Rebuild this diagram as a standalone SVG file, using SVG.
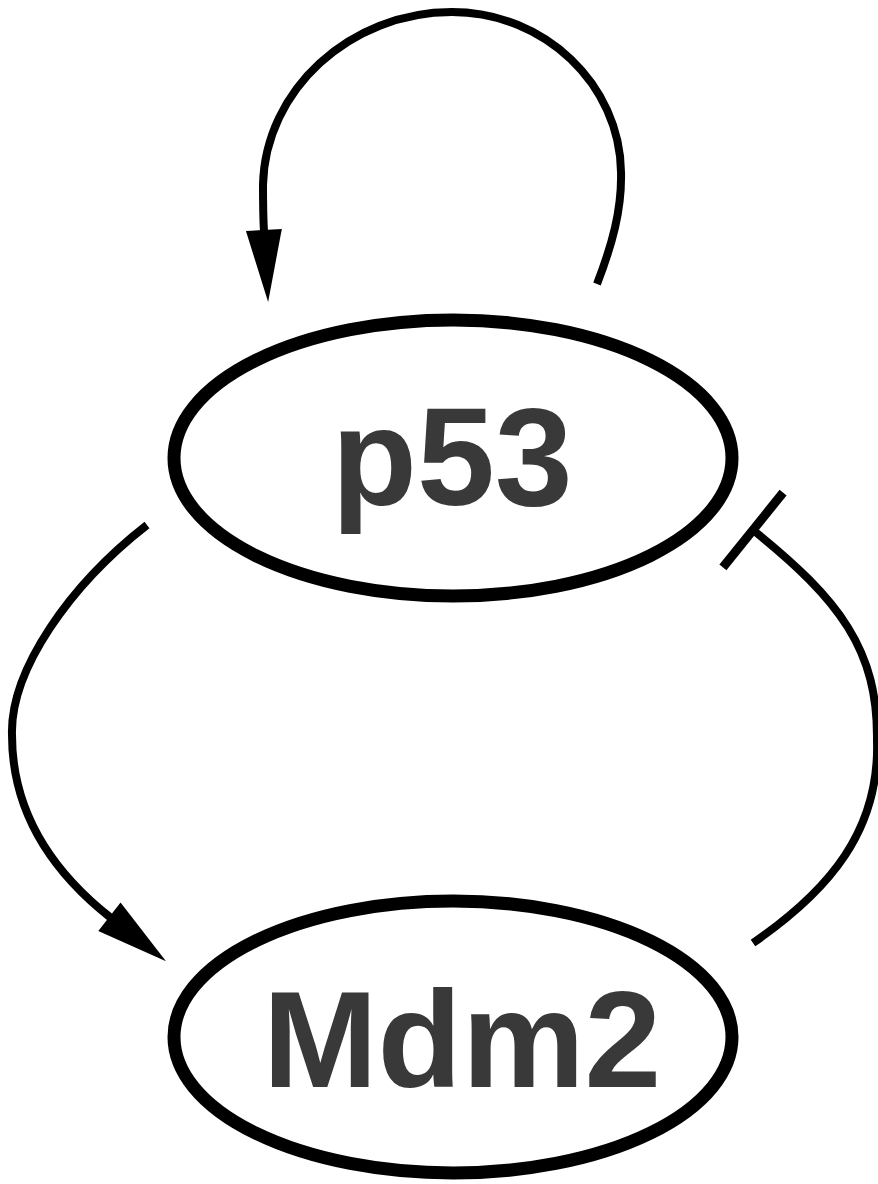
<svg xmlns="http://www.w3.org/2000/svg" width="878" height="1184" viewBox="0 0 878 1184">
  <style>
    .node { fill: #ffffff; stroke: #000000; stroke-width: 13; }
    .label { font-family: "Liberation Sans", Arial, sans-serif; font-weight: bold; fill: #393939; text-anchor: middle; }
    .edge { fill: none; stroke: #000000; stroke-width: 8; }
  </style>
  <defs>
    <marker id="arrow" markerUnits="userSpaceOnUse" markerWidth="80" markerHeight="50" refX="0" refY="0" viewBox="-2 -25 80 50" orient="auto" overflow="visible">
      <path d="M-2,-18 L70,0 L-2,18 Z" fill="#000000"/>
    </marker>
    <marker id="tbar" markerUnits="userSpaceOnUse" markerWidth="20" markerHeight="110" refX="0" refY="0" viewBox="-10 -55 20 110" orient="auto" overflow="visible">
      <path d="M0,-48 L0,48" stroke="#000000" stroke-width="9" fill="none"/>
    </marker>
  </defs>
  <rect width="878" height="1184" fill="#ffffff"/>
  <g id="connectors">
    <path id="p53-self" class="edge" d="M597,284 C612,245 622,210 621,172 C620,85 545,12 452,12 C350,12 265,90 263,185 C263,200 263,215 264,232" marker-end="url(#arrow)"/>
    <path id="p53-to-mdm2" class="edge" d="M147,525 C70,585 10,670 12,735 C12,810 50,870 111,918" marker-end="url(#arrow)"/>
    <path id="mdm2-inhibits-p53" class="edge" d="M753,943 C830,890 880,830 877,740 C878,650 840,600 753,530" marker-end="url(#tbar)"/>
  </g>
  <g id="node-p53">
    <ellipse class="node" cx="453" cy="458" rx="279" ry="138"/>
    <text class="label" x="452" y="505" font-size="140">p53</text>
  </g>
  <g id="node-mdm2">
    <ellipse class="node" cx="453" cy="1037" rx="279" ry="136"/>
    <text class="label" x="462" y="1087" font-size="138">Mdm2</text>
  </g>
</svg>
